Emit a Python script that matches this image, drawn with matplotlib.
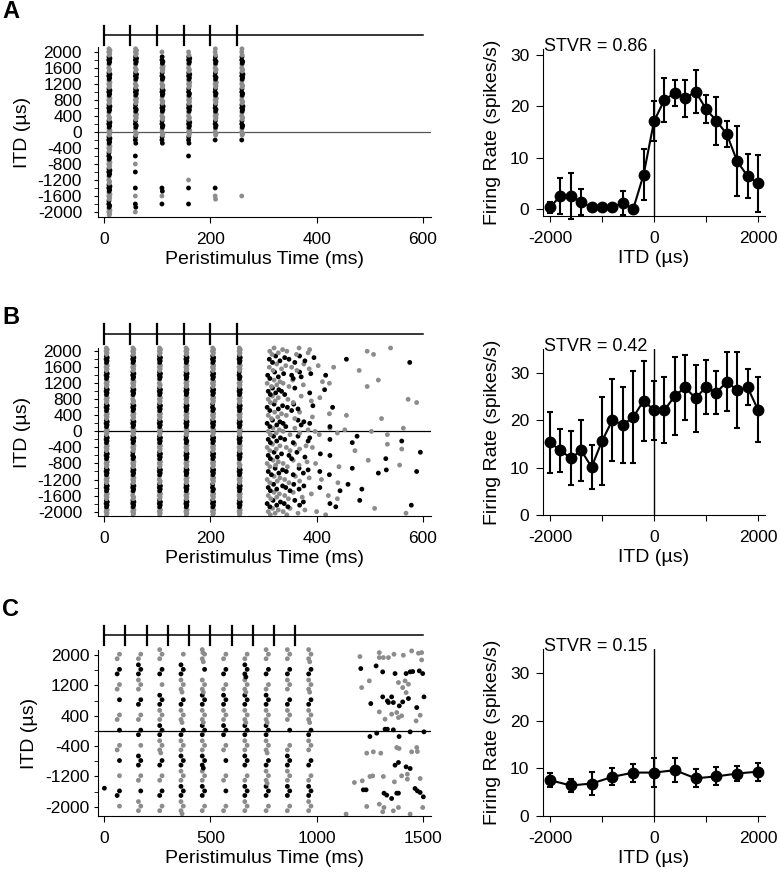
import matplotlib
matplotlib.use('Agg')
import matplotlib.pyplot as plt
from matplotlib import transforms

plt.rcParams['font.family'] = ['Liberation Sans', 'DejaVu Sans']
plt.rcParams['axes.unicode_minus'] = False

GRAY = '#8c8c8c'

# ---- tuning curves (right column) ----
itd_ab = [-2000, -1800, -1600, -1400, -1200, -1000, -800, -600, -400, -200, 0,
          200, 400, 600, 800, 1000, 1200, 1400, 1600, 1800, 2000]
itd_c = [-2000, -1600, -1200, -800, -400, 0, 400, 800, 1200, 1600, 2000]

rate_a = [0.3, 2.6, 2.6, 1.4, 0.3, 0.3, 0.3, 1.2, 0.0, 6.7, 17.1,
          21.3, 22.6, 21.6, 22.9, 19.5, 17.2, 14.6, 9.3, 6.4, 5.0]
err_a = [1.1, 3.5, 4.5, 2.6, 0.0, 0.0, 0.0, 2.3, 0.0, 5.0, 3.9,
         4.3, 2.6, 3.6, 4.2, 2.8, 4.7, 2.6, 6.8, 4.3, 5.5]
rate_b = [15.3, 13.6, 12.0, 13.6, 10.1, 15.6, 20.0, 19.0, 20.6, 24.1, 22.1,
          22.1, 25.1, 26.9, 24.6, 27.0, 25.8, 28.1, 26.3, 26.9, 22.2]
err_b = [6.4, 4.6, 5.7, 6.4, 4.6, 9.3, 8.7, 8.0, 9.7, 8.4, 6.2,
         6.9, 8.2, 6.9, 7.1, 5.6, 4.6, 6.2, 8.0, 3.8, 6.9]
rate_c = [7.5, 6.4, 6.8, 8.2, 9.1, 9.1, 9.6, 7.9, 8.3, 8.9, 9.3]
err_c = [1.5, 1.4, 2.4, 1.8, 1.9, 3.0, 2.5, 1.9, 1.9, 1.5, 1.9]
stvr = ['0.86', '0.42', '0.15']

# ---- rasters (left column) ----
stim_ab = [0, 50, 100, 150, 200, 250]
stim_c = [0, 100, 200, 300, 400, 500, 600, 700, 800, 900]
latency = [10, 5, 67]

# spikes per ITD band (index 0 = -2000 us) in each stimulus burst
counts_a = [
    [5, 4, 5, 5, 4, 5, 5, 4, 5, 5, 5, 5, 4, 5, 5, 5, 5, 5, 4, 5, 5],
    [1, 2, 1, 1, 0, 1, 1, 1, 0, 3, 4, 4, 5, 4, 5, 5, 4, 5, 4, 5, 5],
    [0, 1, 1, 2, 0, 0, 0, 0, 0, 3, 4, 4, 4, 5, 4, 5, 4, 4, 5, 4, 1],
    [0, 1, 0, 1, 1, 0, 0, 1, 0, 3, 5, 5, 4, 5, 5, 4, 5, 5, 4, 5, 2],
    [0, 0, 2, 1, 0, 0, 0, 0, 0, 1, 4, 4, 5, 4, 5, 4, 5, 4, 4, 4, 3],
    [0, 0, 1, 0, 0, 0, 0, 0, 0, 1, 4, 4, 4, 5, 4, 4, 4, 5, 4, 4, 3],
]
counts_b = [
    [5, 5, 5, 5, 5, 5, 5, 5, 5, 5, 5, 5, 5, 5, 5, 5, 5, 5, 5, 5, 5],
    [5, 5, 4, 5, 5, 5, 5, 4, 5, 5, 5, 5, 5, 5, 4, 5, 5, 5, 5, 5, 5],
    [5, 5, 5, 5, 4, 5, 5, 5, 5, 5, 5, 5, 5, 5, 5, 5, 4, 5, 5, 5, 5],
    [5, 5, 5, 5, 5, 5, 5, 5, 5, 4, 5, 5, 5, 5, 5, 5, 5, 5, 5, 5, 5],
    [5, 5, 5, 4, 5, 5, 5, 5, 5, 5, 5, 5, 5, 4, 5, 5, 5, 5, 5, 5, 5],
    [5, 5, 5, 5, 5, 5, 4, 5, 5, 5, 5, 5, 5, 5, 5, 5, 5, 4, 5, 5, 5],
]
counts_c = [
    [1, 2, 1, 1, 2, 1, 2, 1, 2, 2, 2],
    [3, 1, 2, 3, 1, 2, 2, 2, 3, 3, 2],
    [2, 2, 2, 2, 4, 3, 3, 3, 1, 2, 3],
    [4, 3, 3, 3, 3, 2, 4, 2, 4, 3, 1],
    [2, 3, 3, 4, 3, 3, 4, 3, 4, 1, 5],
    [2, 1, 2, 1, 2, 3, 3, 3, 2, 2, 2],
    [3, 3, 2, 3, 3, 3, 4, 3, 4, 4, 2],
    [2, 3, 4, 2, 4, 3, 4, 3, 2, 2, 3],
    [2, 3, 3, 3, 2, 1, 3, 2, 3, 2, 3],
    [3, 3, 2, 2, 3, 2, 4, 2, 4, 2, 4],
]

# sustained response in B after the last click (ms), per ITD band
late_b = [
    [309, 313, 317, 322, 328, 337, 344, 350, 365, 378, 400, 417, 509, 568],
    [307, 312, 318, 325, 332, 339, 346, 359, 368, 375, 425, 436, 481, 578],
    [309, 314, 320, 325, 330, 340, 347, 356, 373, 390, 422, 439],
    [309, 313, 319, 325, 336, 342, 350, 357, 367, 376, 406, 444, 459, 485],
    [307, 312, 320, 326, 331, 340, 348, 360, 368, 386, 409, 440],
    [309, 315, 322, 329, 336, 343, 356, 367, 375, 384, 406, 424, 467, 516, 531, 588],
    [307, 312, 318, 323, 328, 337, 345, 356, 367, 382, 398, 442, 497, 556],
    [309, 313, 320, 326, 334, 348, 353, 363, 378, 407, 425, 530, 595],
    [307, 312, 317, 324, 331, 343, 350, 359, 368, 380, 392, 472, 533, 560],
    [309, 313, 319, 325, 332, 340, 356, 365, 384, 387, 425, 467, 476, 560],
    [309, 313, 318, 324, 330, 337, 350, 359, 368, 384, 397, 405, 425, 439, 453, 503, 533, 563],
    [307, 312, 317, 325, 331, 337, 342, 365, 371, 376, 387, 425],
    [309, 315, 321, 327, 334, 343, 359, 368, 392, 424, 456, 522],
    [307, 312, 320, 328, 336, 345, 353, 357, 365, 393, 430],
    [309, 313, 317, 322, 328, 346, 356, 371, 390, 406, 572, 588],
    [309, 313, 317, 323, 329, 334, 340, 359, 387, 415],
    [307, 315, 320, 325, 331, 337, 348, 355, 375, 411, 424, 495, 516],
    [308, 312, 321, 328, 338, 353, 356, 368, 371, 389, 417],
    [311, 318, 325, 334, 342, 353, 363, 376, 386, 403, 432, 480],
    [311, 317, 323, 331, 340, 348, 359, 368, 378, 395, 456, 575],
    [312, 316, 320, 328, 336, 344, 362, 367, 384, 387, 495, 507, 539],
]

# scattered spikes in C (time ms, ITD us)
scat_c_t = [2, 1138, 1203, 1294, 1313, 1337, 1363, 1407, 1446, 1478, 1493, 1493, 1294,
            1207, 1279, 1310, 1368, 1420, 1439, 1451, 1482, 1498,
            1211, 1247, 1384, 1404, 1415, 1431, 1420,
            1254, 1310, 1337, 1360, 1352, 1388, 1404, 1431, 1470, 1504, 1332,
            1294, 1321, 1352, 1376, 1384, 1399, 1467, 1486,
            1250, 1282, 1321, 1332, 1360, 1387, 1439, 1504,
            1235, 1266, 1301, 1376, 1387, 1446, 1470, 1473,
            1368, 1384, 1420, 1439,
            1177, 1214, 1250, 1263, 1313, 1365, 1399, 1426, 1486, 1426,
            1219, 1232, 1316, 1329, 1376, 1384, 1462, 1473, 1486, 1501, 1352,
            1235, 1294, 1316, 1310, 1360, 1384, 1439, 1498]
scat_c_itd = [-1508, -2191, 1957, 2062, 1931, 1931, 2018, 1992, 2106, 2045, 2062, 1869, 1931,
              1641, 1711, 1554, 1510, 1510, 1554, 1563, 1580, 1510,
              1141, 1317, 1273, 1141, 1317, 1229, 1010,
              720, 896, 747, 747, 896, 659, 764, 852, 615, 896, 790,
              501, 308, 440, 484, 352, 396, 264, 413,
              -148, -60, 45, 45, 28, -148, -25, -25,
              -586, -551, -586, -437, -463, -551, -437, -542,
              -902, -831, -946, -990,
              -1358, -1314, -1200, -1183, -1200, -1341, -1183, -1139, -1253, -1270,
              -1551, -1551, -1639, -1691, -1639, -1639, -1516, -1578, -1621, -1735, -1779,
              -1989, -1928, -2016, -2130, -2104, -2016, -2191, -2016]

ROWS5 = [-80, -40, 0, 40, 80]
ORDER5 = [2, 0, 4, 1, 3]
JIT5 = [0.0, 1.0, -0.8, 1.5, -0.4]
ROWS10 = [-180, -140, -100, -60, -20, 20, 60, 100, 140, 180]
ORDER10 = [5, 2, 8, 0, 6, 3, 9, 1, 7, 4]
JIT10 = [0, 6, -5, 3, -7, 6, -2, 5, -5, 2]
DOT = 12

W, H = 780, 875
fig = plt.figure(figsize=(W / 100, H / 100), dpi=100)


def px_axes(left, top, right, bottom):
    return fig.add_axes([left / W, 1 - bottom / H, (right - left) / W, (bottom - top) / H])


def burst_spikes(onsets, lat, counts, step, rows, order, jit):
    t, y, c = [], [], []
    for on, cnt in zip(onsets, counts):
        for k, n in enumerate(cnt):
            for j in range(n):
                r = order[j]
                t.append(on + lat + jit[r])
                y.append(-2000 + step * k + rows[r])
                c.append('k' if k % 2 else GRAY)
    return t, y, c


def late_spikes(per_band, step, rows, order):
    t, y, c = [], [], []
    for k, times in enumerate(per_band):
        for j, tt in enumerate(times):
            t.append(tt)
            y.append(-2000 + step * k + rows[order[j % len(order)]])
            c.append('k' if k % 2 else GRAY)
    return t, y, c


def stim_bar(ax, onsets, xmax, gap, half, hpx):
    tr = transforms.blended_transform_factory(ax.transData, ax.transAxes)
    yb = 1 + gap / hpx
    ax.plot([0, xmax], [yb, yb], color='k', lw=1.1, transform=tr, clip_on=False)
    for on in onsets:
        ax.plot([on, on], [yb - half / hpx, yb + half / hpx], color='k', lw=1.6,
                transform=tr, clip_on=False)


def raster_axes(ax, xlim, xticks, ylim, major, minor, zero_col, ypad):
    ax.set_xlim(*xlim)
    ax.set_ylim(*ylim)
    ax.spines[['top', 'right']].set_visible(False)
    ax.set_xticks(xticks)
    ax.set_yticks(major)
    ax.set_yticklabels([str(v) for v in major])
    ax.set_yticks(minor, minor=True)
    ax.tick_params(axis='y', which='both', length=3, labelsize=12.5, pad=ypad)
    ax.tick_params(axis='x', length=4.5, labelsize=12.5, pad=6)
    ax.axhline(0, color=zero_col, lw=0.9, zorder=1)
    ax.set_xlabel('Peristimulus Time (ms)', fontsize=14, labelpad=3)
    ax.set_ylabel('ITD (\u00b5s)', fontsize=14, labelpad=5)


def tuning_axes(ax, itd, rate, err, ylim, label):
    ax.errorbar(itd, rate, yerr=err, color='k', lw=1.5, marker='o', ms=7.5,
                elinewidth=1.5, capsize=2.5, capthick=1.5, clip_on=False, zorder=3)
    ax.axvline(0, color='k', lw=1)
    ax.set_xlim(-2135, 2135)
    ax.set_ylim(*ylim)
    ax.spines[['top', 'right']].set_visible(False)
    ax.set_xticks([-2000, -1000, 0, 1000, 2000])
    ax.set_xticklabels(['-2000', '', '0', '', '2000'])
    ax.set_yticks([0, 10, 20, 30])
    ax.tick_params(axis='y', length=5, labelsize=12.5, pad=5)
    ax.tick_params(axis='x', length=4.5, labelsize=12.5, pad=6)
    ax.set_xlabel('ITD (\u00b5s)', fontsize=14, labelpad=3)
    ax.set_ylabel('Firing Rate (spikes/s)', fontsize=14, labelpad=6)
    ax.text(0.005, 0.99, 'STVR = ' + label, transform=ax.transAxes, fontsize=13,
            ha='left', va='baseline')


major_ab = [-2000, -1600, -1200, -800, -400, 0, 400, 800, 1200, 1600, 2000]
minor_ab = [-1800, -1400, -1000, -600, -200, 200, 600, 1000, 1400, 1800]
major_c = [-2000, -1200, -400, 400, 1200, 2000]
minor_c = [-1600, -800, 0, 800, 1600]

# row A
ax = px_axes(98, 47, 431, 217)
t, y, c = burst_spikes(stim_ab, latency[0], counts_a, 200, ROWS5, ORDER5, JIT5)
ax.scatter(t, y, s=DOT, c=c, linewidths=0, clip_on=False, zorder=2)
raster_axes(ax, (-11, 615), [0, 200, 400, 600], (-2125, 2125), major_ab, minor_ab, '#555555', 8.5)
stim_bar(ax, stim_ab, 600, 12, 9.5, 170)

ax = px_axes(543, 49, 765, 216)
tuning_axes(ax, itd_ab, rate_a, err_a, (-1.36, 31.2), stvr[0])

# row B
ax = px_axes(98, 348, 431, 516)
t, y, c = burst_spikes(stim_ab, latency[1], counts_b, 200, ROWS5, ORDER5, JIT5)
t2, y2, c2 = late_spikes(late_b, 200, ROWS5, ORDER5)
ax.scatter(t + t2, y + y2, s=DOT, c=c + c2, linewidths=0, clip_on=False, zorder=2)
raster_axes(ax, (-11, 615), [0, 200, 400, 600], (-2110, 2080), major_ab, minor_ab, 'k', 8.5)
stim_bar(ax, stim_ab, 600, 14, 10, 168)

ax = px_axes(543, 349, 765, 515)
tuning_axes(ax, itd_ab, rate_b, err_b, (0, 35), stvr[1])

# row C
ax = px_axes(98, 650, 431, 816)
t, y, c = burst_spikes(stim_c, latency[2], counts_c, 400, ROWS10, ORDER10, JIT10)
c2 = ['k' if round((v + 2000) / 400) % 2 else GRAY for v in scat_c_itd]
ax.scatter(t + scat_c_t, y + scat_c_itd, s=DOT, c=c + c2, linewidths=0, clip_on=False, zorder=2)
raster_axes(ax, (-28, 1537), [0, 500, 1000, 1500], (-2240, 2130), major_c, minor_c, 'k', 3)
stim_bar(ax, stim_c, 1500, 15, 9.5, 166)

ax = px_axes(543, 649, 765, 816)
tuning_axes(ax, itd_c, rate_c, err_c, (0, 35), stvr[2])

for letter, yc in zip('ABC', [11, 318, 610]):
    fig.text(2 / W, 1 - yc / H, letter, fontsize=17, fontweight='bold', ha='left', va='center')

fig.savefig('out.png', dpi=100)
